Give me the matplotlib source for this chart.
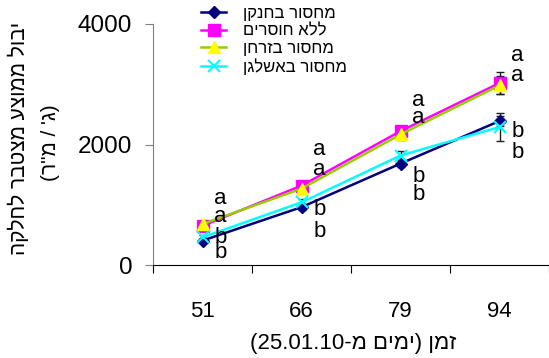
import re
import matplotlib
matplotlib.use("Agg")
import matplotlib.pyplot as plt

plt.rcParams['font.family'] = ['Liberation Sans', 'DejaVu Sans']


def rtl(s):
    # matplotlib has no bidi: reverse hebrew, keep number runs, mirror brackets
    parts = re.findall(r'[0-9.]+|.', s)[::-1]
    swap = {'(': ')', ')': '('}
    return ''.join(swap.get(p, p) for p in parts)


# days from 25.01.10
days = ['51', '66', '79', '94']

series = ['מחסור בחנקן', 'ללא חוסרים', 'מחסור בזרחן', 'מחסור באשלגן']
n_def = [405, 960, 1683, 2390]
none_def = [650, 1317, 2222, 3020]
p_def = [680, 1267, 2167, 2980]
k_def = [460, 1040, 1817, 2290]

n_err = [30, 40, 60, 80]
none_err = [40, 50, 90, 190]
p_err = [40, 50, 90, 150]
k_err = [30, 60, 70, 240]

letters = ['a', 'a', 'b', 'b']
letter_y = [[1110, 800, 460, 200],
            [1917, 1583, 917, 550],
            [2738, 2440, 1472, 1167],
            [3472, 3138, 2222, 1861]]

x = [1, 2, 3, 4]

fig = plt.figure(figsize=(5.49, 3.58), dpi=100)
ax = fig.add_axes([153/549, 1-265/358, 1-153/549, 241/358])

styles = [
    dict(color='#000080', marker='D', ms=6.5, mfc='#000080', mec='#000080'),
    dict(color='#FF00FF', marker='s', ms=8, mfc='#FF00FF', mec='#FF00FF'),
    dict(color='#99CC00', marker='^', ms=9, mfc='#FFFF00', mec='#FFFF00'),
    dict(color='#00FFFF', marker='x', ms=8, mew=1.5),
]
vals = [n_def, none_def, p_def, k_def]
errs = [n_err, none_err, p_err, k_err]

handles = []
for v, e, st in zip(vals, errs, styles):
    ax.errorbar(x, v, yerr=e, fmt='none', ecolor='#202020', elinewidth=1,
                capsize=3, capthick=1, zorder=2)
    h, = ax.plot(x, v, lw=1.8, zorder=3, **st)
    handles.append(h)

for i in range(4):
    for let, yy in zip(letters, letter_y[i]):
        ax.text(x[i] + 0.18, yy, let, ha='center', va='center', fontsize=16)

ax.set_xlim(0.5, 4.5)
ax.set_ylim(0, 4000)
ax.set_yticks([0, 2000, 4000])
ax.tick_params(axis='y', labelsize=17.5, length=6, pad=9, color='#808080')

ax.set_xticks([0.5, 1.5, 2.5, 3.5, 4.5])
ax.set_xticklabels([])
ax.set_xticks(x, minor=True)
ax.set_xticklabels(days, minor=True)
ax.tick_params(axis='x', which='major', length=6, direction='out')
ax.tick_params(axis='x', which='minor', length=0, labelsize=16, pad=26)

ax.spines['top'].set_visible(False)
ax.spines['right'].set_visible(False)
ax.spines['left'].set_color('#808080')

fig.text(353/549, 1-344/358, rtl('זמן (ימים מ-25.01.10)'),
         ha='center', va='center', fontsize=16)
fig.text(18/549, 1-138/358, rtl('יבול ממוצע מצטבר לחלקה'),
         rotation=90, ha='center', va='center', fontsize=15)
fig.text(50/549, 1-143/358, rtl('(ג\' / מ"ר)'),
         rotation=90, ha='center', va='center', fontsize=15)

fig.legend(handles, [rtl(s) for s in series], loc='upper left',
           bbox_to_anchor=(201/549, 1-6/358), frameon=False, fontsize=12,
           borderpad=0, borderaxespad=0, handlelength=1.5, handletextpad=1.0,
           labelspacing=0.15)

fig.savefig('out.png', dpi=100)
